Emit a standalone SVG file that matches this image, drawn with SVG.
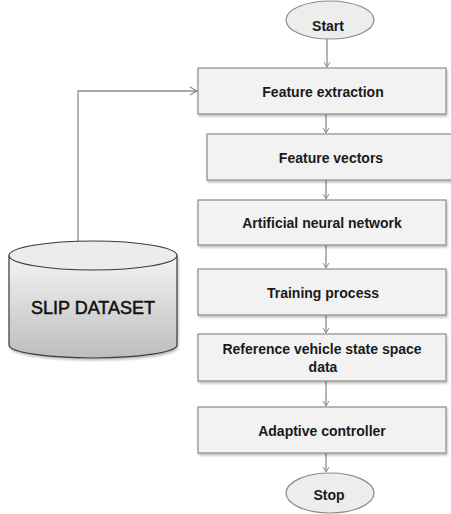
<svg xmlns="http://www.w3.org/2000/svg" width="451" height="514" viewBox="0 0 451 514">
<style>
.box{fill:#f2f2f2;stroke:#8a8a8a;stroke-width:1.2}
.term{fill:#ededed;stroke:#8a8a8a;stroke-width:1.2}
.lbl{font-family:"Liberation Sans",Arial,sans-serif;font-weight:bold;font-size:14px;fill:#1a1a1a;text-anchor:middle}
.conn{fill:none;stroke:#8c8c8c;stroke-width:1.3}
</style>
<defs>
<marker id="ah" markerWidth="10" markerHeight="10" refX="8" refY="5" orient="auto" markerUnits="userSpaceOnUse">
<path d="M1,1 L8,5 L1,9" fill="none" stroke="#8c8c8c" stroke-width="1.3"/>
</marker>
<marker id="sa" markerWidth="8" markerHeight="8" refX="6" refY="4" orient="auto" markerUnits="userSpaceOnUse">
<path d="M1,1 L6,4 L1,7" fill="none" stroke="#8c8c8c" stroke-width="1"/>
</marker>
<linearGradient id="cyl" x1="0" y1="0" x2="0" y2="1">
<stop offset="0" stop-color="#f4f4f4"/>
<stop offset="1" stop-color="#bdbdbd"/>
</linearGradient>
<filter id="sh" x="-5%" y="-5%" width="115%" height="125%">
<feDropShadow dx="1" dy="2" stdDeviation="1" flood-color="#000" flood-opacity="0.25"/>
</filter>
</defs>
<g id="connectors">
<path class="conn" d="M78,241 V91 H197" marker-end="url(#ah)"/>
<path class="conn" d="M327,39 V67" marker-end="url(#sa)"/>
<path class="conn" d="M326,114 V133" marker-end="url(#sa)"/>
<path class="conn" d="M326,180 V199" marker-end="url(#sa)"/>
<path class="conn" d="M326,245 V268" marker-end="url(#sa)"/>
<path class="conn" d="M326,315 V333" marker-end="url(#sa)"/>
<path class="conn" d="M326,381 V406" marker-end="url(#sa)"/>
<path class="conn" d="M326,453 V472" marker-end="url(#sa)"/>
</g>
<g id="start">
<ellipse class="term" cx="330" cy="20" rx="44" ry="19"/>
<text class="lbl" x="328" y="31">Start</text>
</g>
<g id="feature-extraction">
<rect class="box" x="198" y="68" width="248" height="46" filter="url(#sh)"/>
<text class="lbl" x="323" y="97">Feature extraction</text>
</g>
<g id="feature-vectors">
<rect class="box" x="207" y="134" width="260" height="46" filter="url(#sh)"/>
<text class="lbl" x="331" y="163">Feature vectors</text>
</g>
<g id="ann">
<rect class="box" x="198" y="200" width="248" height="45" filter="url(#sh)"/>
<text class="lbl" x="322" y="228">Artificial neural network</text>
</g>
<g id="training">
<rect class="box" x="198" y="269" width="248" height="46" filter="url(#sh)"/>
<text class="lbl" x="323" y="298">Training process</text>
</g>
<g id="reference">
<rect class="box" x="198" y="334" width="248" height="47" filter="url(#sh)"/>
<text class="lbl" x="322" y="354">Reference vehicle state space</text>
<text class="lbl" x="323" y="372">data</text>
</g>
<g id="adaptive">
<rect class="box" x="198" y="407" width="248" height="46" filter="url(#sh)"/>
<text class="lbl" x="322" y="436">Adaptive controller</text>
</g>
<g id="stop">
<ellipse class="term" cx="330" cy="493" rx="44" ry="20"/>
<text class="lbl" x="329" y="500">Stop</text>
</g>
<g id="slip-dataset">
<path d="M9,255.5 V345 A84,13 0 0 0 177,345 V255.5" fill="url(#cyl)" stroke="#3a3a3a" stroke-width="1.2" filter="url(#sh)"/>
<ellipse cx="93" cy="255.5" rx="84" ry="14.5" fill="#ececec" stroke="#3a3a3a" stroke-width="1.2"/>
<text x="93" y="314" font-family="'Liberation Sans',Arial,sans-serif" font-size="18" fill="#111" stroke="#111" stroke-width="0.5" text-anchor="middle">SLIP DATASET</text>
</g>
</svg>
